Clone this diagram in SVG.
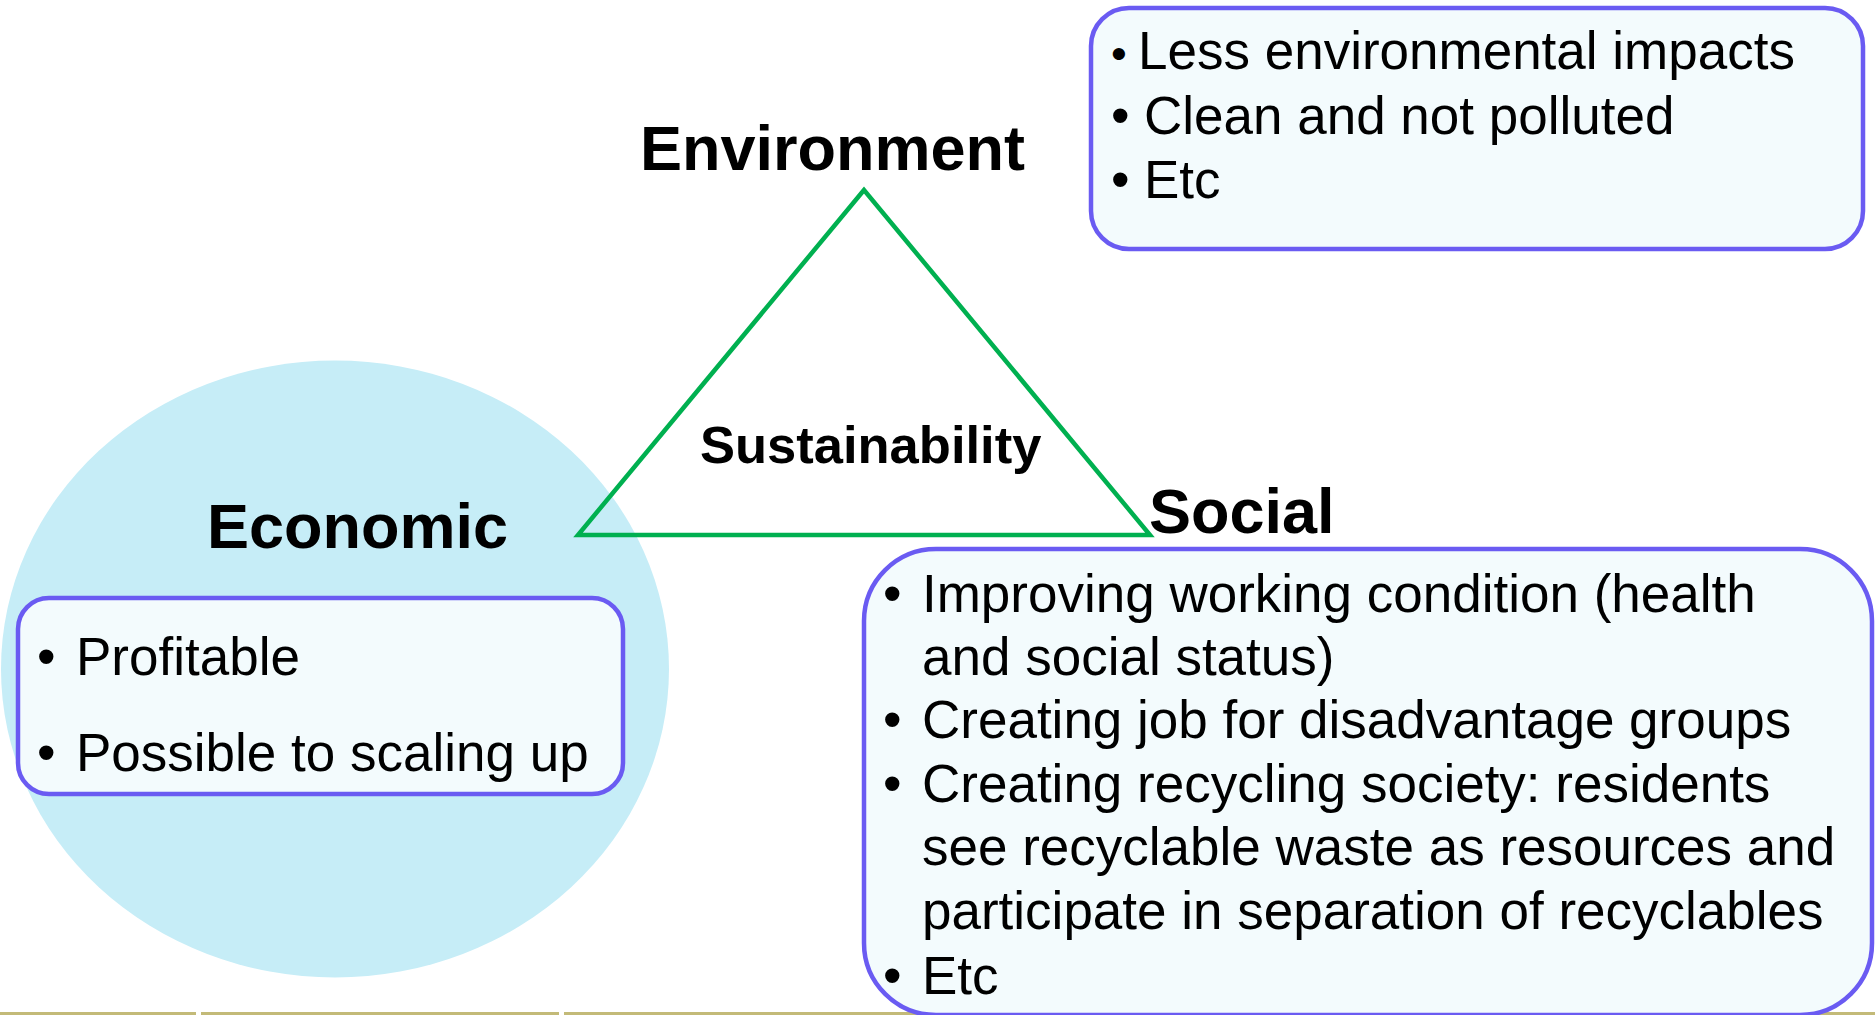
<svg xmlns="http://www.w3.org/2000/svg" width="1875" height="1015" viewBox="0 0 1875 1015">
  <style>
    text { font-family: "Liberation Sans", Arial, sans-serif; fill: #000; }
    .body { font-size: 53px; }
    .head { font-size: 63px; font-weight: bold; }
    .center { font-size: 52.5px; font-weight: bold; }
    .box { fill: #F3FBFD; stroke: #6A5BF2; stroke-width: 4.5; }
    .tri { fill: none; stroke: #00B050; stroke-width: 4.5; stroke-linejoin: miter; }
    .rule { stroke: #C3BA78; stroke-width: 3; }
  </style>

  <rect width="1875" height="1015" fill="#FFFFFF"/>

  <!-- footer rule -->
  <g id="footer">
    <line class="rule" x1="0" y1="1013.5" x2="196" y2="1013.5"/>
    <line class="rule" x1="201" y1="1013.5" x2="559" y2="1013.5"/>
    <line class="rule" x1="564" y1="1013.5" x2="1875" y2="1013.5"/>
  </g>

  <!-- Economic pillar -->
  <g id="economic">
    <ellipse cx="335" cy="669" rx="334" ry="308.5" fill="#C6EDF7"/>
    <text class="head" x="207" y="548">Economic</text>
    <rect class="box" x="18" y="598" width="605" height="196" rx="31" ry="31"/>
    <text class="body" x="37" y="675">•</text>
    <text class="body" x="76" y="675">Profitable</text>
    <text class="body" x="37" y="771">•</text>
    <text class="body" x="76" y="771">Possible to scaling up</text>
  </g>

  <!-- Sustainability triangle -->
  <g id="connectors">
    <polygon class="tri" points="864,190 578,535 1150,535"/>
  </g>
  <g id="sustainability">
    <text class="center" x="700" y="463">Sustainability</text>
  </g>

  <!-- Environment pillar -->
  <g id="environment">
    <text class="head" x="640" y="170">Environment</text>
    <rect class="box" x="1091" y="8" width="772" height="241" rx="38" ry="38"/>
    <text class="body" x="1111" y="69" style="font-size:45px">•</text>
    <text class="body" x="1138" y="69">Less environmental impacts</text>
    <text class="body" x="1111" y="134">•</text>
    <text class="body" x="1144" y="134">Clean and not polluted</text>
    <text class="body" x="1111" y="198">•</text>
    <text class="body" x="1144" y="198">Etc</text>
  </g>

  <!-- Social pillar -->
  <g id="social">
    <text class="head" x="1149" y="533">Social</text>
    <rect class="box" x="864" y="549" width="1008" height="466" rx="72" ry="72"/>
    <text class="body" x="883" y="612">•</text>
    <text class="body" x="922" y="612">Improving working condition (health</text>
    <text class="body" x="922" y="675">and social status)</text>
    <text class="body" x="883" y="738">•</text>
    <text class="body" x="922" y="738">Creating job for disadvantage groups</text>
    <text class="body" x="883" y="802">•</text>
    <text class="body" x="922" y="802">Creating recycling society: residents</text>
    <text class="body" x="922" y="865">see recyclable waste as resources and</text>
    <text class="body" x="922" y="929">participate in separation of recyclables</text>
    <text class="body" x="883" y="994">•</text>
    <text class="body" x="922" y="994">Etc</text>
  </g>
</svg>
